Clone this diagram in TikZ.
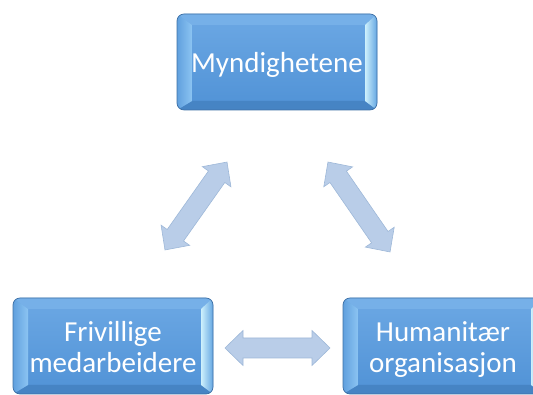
\documentclass[tikz,border=0pt]{standalone}
\usepackage{fontspec}
\newfontfamily\carlito{Carlito}
\definecolor{boxtop}{RGB}{108,168,228}
\definecolor{boxbot}{RGB}{80,146,214}
\definecolor{boxedge}{RGB}{62,112,165}
\definecolor{leftout}{RGB}{96,160,222}
\definecolor{leftin}{RGB}{140,196,242}
\definecolor{rightout}{RGB}{100,166,226}
\definecolor{rightin}{RGB}{205,240,252}
\definecolor{topstrip}{RGB}{118,176,232}
\definecolor{botstrip}{RGB}{70,132,196}
\definecolor{arrowfill}{RGB}{185,205,232}
\definecolor{arrowedge}{RGB}{158,184,216}
\tikzset{
  bevelbox/.style={draw=boxedge, line width=0.7pt, rounded corners=7pt,
    minimum width=200pt, minimum height=96pt, inner sep=0pt, align=center,
    text=white, font=\carlito\fontsize{29}{31}\selectfont,
    top color=boxtop, bottom color=boxbot,
    path picture={
      \fill[sharp corners, topstrip]
        (path picture bounding box.north west) -- (path picture bounding box.north east)
        -- ([xshift=-12pt,yshift=-11pt]path picture bounding box.north east)
        -- ([xshift=15pt,yshift=-11pt]path picture bounding box.north west) -- cycle;
      \fill[sharp corners, botstrip]
        (path picture bounding box.south west) -- (path picture bounding box.south east)
        -- ([xshift=-12pt,yshift=9pt]path picture bounding box.south east)
        -- ([xshift=15pt,yshift=9pt]path picture bounding box.south west) -- cycle;
      \shade[sharp corners, left color=leftout, right color=leftin]
        (path picture bounding box.north west)
        -- ([xshift=15pt,yshift=-11pt]path picture bounding box.north west)
        -- ([xshift=15pt,yshift=9pt]path picture bounding box.south west)
        -- (path picture bounding box.south west) -- cycle;
      \shade[sharp corners, left color=rightin, right color=rightout]
        (path picture bounding box.north east)
        -- ([xshift=-12pt,yshift=-11pt]path picture bounding box.north east)
        -- ([xshift=-12pt,yshift=9pt]path picture bounding box.south east)
        -- (path picture bounding box.south east) -- cycle;
    }},
  oneline/.style={text height=20.6pt, text depth=0pt},
  twoline/.style={text height=54pt, text depth=0pt},
  arrowstyle/.style={fill=arrowfill, draw=arrowedge, line width=0.6pt, line join=miter},
  pics/dblarrow/.style={code={
    \filldraw[arrowstyle] ({-#1/2},0) -- ++(18,17.5) -- ++(0,-7.5) -- ({#1/2-18},10)
      -- ++(0,7.5) -- ({#1/2},0) -- ({#1/2-18},-17.5) -- ++(0,7.5)
      -- ({-#1/2+18},-10) -- ++(0,-7.5) -- cycle;
  }}
}
\begin{document}
\begin{tikzpicture}[x=1pt,y=1pt]
\useasboundingbox (0,0) rectangle (533,395);
\node[bevelbox, oneline] (myn) at (277,333) {Myndighetene};
\node[bevelbox, twoline] (fri) at (113,49) {Frivillige\\medarbeidere};
\node[bevelbox, twoline] (hum) at (443,49) {Humanitær\\organisasjon};
\pic[rotate=54.8] (la) at (196,189) {dblarrow=107.6};
\pic[rotate=-55.4] (ra) at (359,188) {dblarrow=109.3};
\pic (ba) at (277.5,47) {dblarrow=105};
\end{tikzpicture}
\end{document}
